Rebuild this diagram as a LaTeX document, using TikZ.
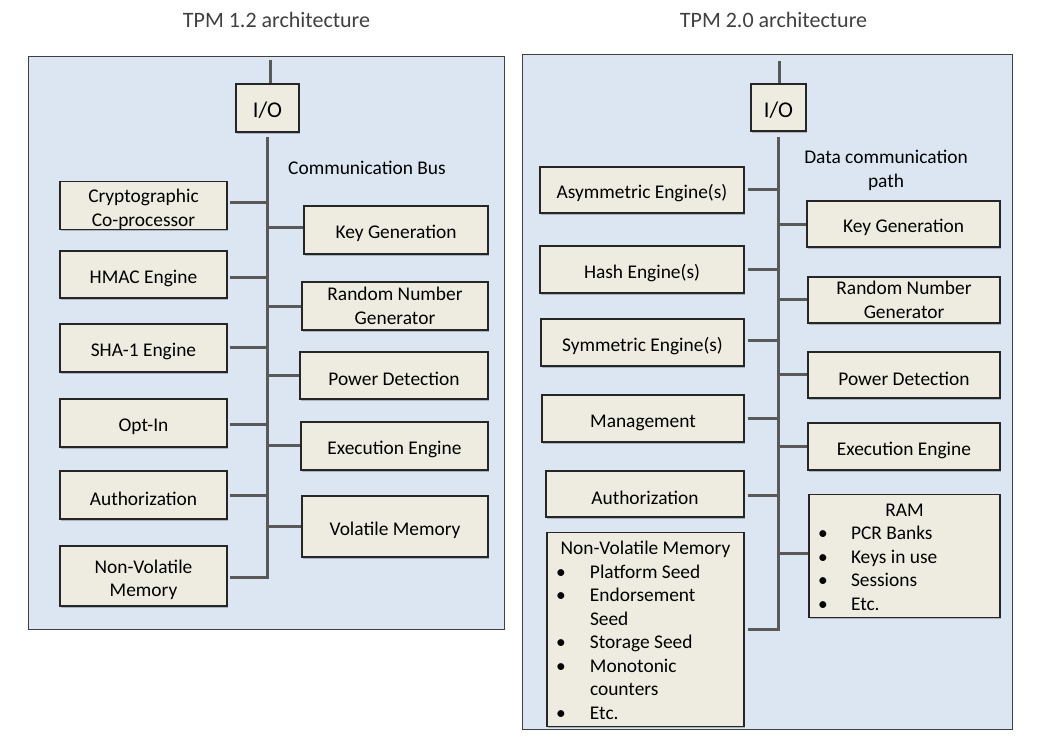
\documentclass[tikz,border=0pt]{standalone}
\usepackage{fontspec}
\setmainfont{Carlito}
\usetikzlibrary{shadows}
\definecolor{panelfill}{HTML}{DCE6F2}
\definecolor{panelborder}{HTML}{404040}
\definecolor{boxfill}{HTML}{EEECE1}
\definecolor{boxborder}{HTML}{262626}
\definecolor{busgray}{HTML}{595959}
\definecolor{titlegray}{HTML}{404040}
\newcommand{\boxfont}{\fontsize{19.4}{23.5}\selectfont}
\newcommand{\iofont}{\fontsize{22.5}{26}\selectfont}
\newcommand{\ttlfont}{\fontsize{22}{26}\selectfont}
\newcommand{\blt}{\hspace*{9pt}\textbullet}
\newcommand{\toprow}{\rule{0pt}{21pt}}
\tikzset{
  panel/.style={draw=panelborder, fill=panelfill, line width=1pt, inner sep=0pt},
  comp/.style={draw=boxborder, fill=boxfill, line width=1.1pt, inner sep=0pt, align=center, font=\boxfont,
    drop shadow={shadow xshift=1.3pt, shadow yshift=-1.5pt, opacity=0.22, fill=black}},
  iobox/.style={comp, font=\iofont},
  bus/.style={draw=busgray, line width=3pt},
  lbl/.style={font=\boxfont, inner sep=0pt, align=center},
  ttl/.style={font=\ttlfont, text=titlegray, inner sep=0pt}
}
\begin{document}
\begin{tikzpicture}[x=1pt, y=-1pt]
\useasboundingbox (0,0) rectangle (1041,748);
% titles
\node[ttl] (t1) at (276.5,20) {TPM 1.2 architecture};
\node[ttl] (t2) at (773.5,20) {TPM 2.0 architecture};
% panels
\node[panel, minimum width=476pt, minimum height=573pt] (panelL) at (266,342.5) {};
\node[panel, minimum width=490pt, minimum height=675pt] (panelR) at (767,391.5) {};

% ---------------- TPM 1.2 ----------------
\node[iobox, minimum width=63pt, minimum height=48pt] (ioL) at (267.5,108) {\rule{0pt}{20pt}I/O};
\coordinate (ioTopL) at (270,60);
\coordinate (busTopL) at (267,137);
\coordinate (busBotL) at (267,577);
\node[lbl, anchor=west] (cbus) at (288,168) {Communication Bus};

\node[comp, minimum width=167pt, minimum height=47pt] (crypto) at (143.5,205.5) {\toprow Cryptographic\\Co-processor};
\node[comp, minimum width=167pt, minimum height=47pt] (hmac) at (143.5,274.5) {\toprow HMAC Engine};
\node[comp, minimum width=167pt, minimum height=48pt] (sha) at (143.5,348) {\toprow SHA-1 Engine};
\node[comp, minimum width=167pt, minimum height=48pt] (optin) at (143.5,423) {\toprow Opt-In};
\node[comp, minimum width=167pt, minimum height=48pt] (authL) at (143.5,495) {\toprow Authorization};
\node[comp, minimum width=167pt, minimum height=60pt] (nvmL) at (143.5,576) {\toprow Non-Volatile\\Memory};

\node[comp, minimum width=184pt, minimum height=48pt] (keyL) at (396,230) {\toprow Key Generation};
\node[comp, minimum width=186pt, minimum height=48pt] (rngL) at (395,306) {Random Number\\Generator};
\node[comp, minimum width=188pt, minimum height=47pt] (powL) at (394,375.5) {\toprow Power Detection};
\node[comp, minimum width=187pt, minimum height=48pt] (execL) at (394.5,446) {\toprow Execution Engine};
\node[comp, minimum width=186pt, minimum height=61pt] (volL) at (395,526.5) {\toprow Volatile Memory};

\draw[bus] (ioTopL) -- (ioTopL |- ioL.north);
\draw[bus, line join=miter] (busTopL) -- (busBotL) -- ([xshift=2pt]nvmL.east |- busBotL);
\draw[bus] ([xshift=2pt,yshift=3.5pt]crypto.east) -- ([yshift=3.5pt]crypto.east -| busTopL);
\draw[bus] ([xshift=2pt,yshift=-2.5pt]hmac.east) -- ([yshift=-2.5pt]hmac.east -| busTopL);
\draw[bus] ([xshift=2pt,yshift=1pt]sha.east) -- ([yshift=1pt]sha.east -| busTopL);
\draw[bus] ([xshift=2pt,yshift=-1pt]optin.east) -- ([yshift=-1pt]optin.east -| busTopL);
\draw[bus] ([xshift=2pt]authL.east) -- (authL.east -| busTopL);
\draw[bus] ([yshift=3pt]keyL.west -| busTopL) -- ([yshift=3pt]keyL.west);
\draw[bus] (rngL.west -| busTopL) -- (rngL.west);
\draw[bus] (powL.west -| busTopL) -- (powL.west);
\draw[bus] ([yshift=1pt]execL.west -| busTopL) -- ([yshift=1pt]execL.west);
\draw[bus] (volL.west -| busTopL) -- (volL.west);

% ---------------- TPM 2.0 ----------------
\node[iobox, minimum width=55pt, minimum height=47pt] (ioR) at (778.5,107.5) {\rule{0pt}{20pt}I/O};
\coordinate (ioTopR) at (779,61);
\coordinate (busTopR) at (778,137);
\coordinate (busBotR) at (778,629);
\node[lbl] (dcp) at (886,170.5) {Data communication\\path};

\node[comp, minimum width=204pt, minimum height=46pt] (asym) at (642,190) {\toprow Asymmetric Engine(s)};
\node[comp, minimum width=204pt, minimum height=47pt] (hash) at (642,269.5) {\toprow Hash Engine(s)};
\node[comp, minimum width=203pt, minimum height=47pt] (sym) at (642.5,342.5) {\toprow Symmetric Engine(s)};
\node[comp, minimum width=202pt, minimum height=47pt] (mgmt) at (643,418.5) {\toprow Management};
\node[comp, minimum width=198pt, minimum height=46pt] (authR) at (645,494) {\toprow Authorization};
\node[comp, minimum width=197pt, minimum height=193pt] (nvmR) at (645.5,629.5) {%
  \begin{tabular}{@{}p{43pt}@{}p{154pt}@{}}
  \multicolumn{2}{@{}c@{}}{\rule{0pt}{22pt}Non-Volatile Memory}\\
  \blt & Platform Seed\\
  \blt & Endorsement\\
       & Seed\\
  \blt & Storage Seed\\
  \blt & Monotonic\\
       & counters\\
  \blt & Etc.
  \end{tabular}};

\node[comp, minimum width=193pt, minimum height=46pt] (keyR) at (903.5,224) {\toprow Key Generation};
\node[comp, minimum width=192pt, minimum height=46pt] (rngR) at (904,300) {Random Number\\Generator};
\node[comp, minimum width=192pt, minimum height=46pt] (powR) at (904,375) {\toprow Power Detection};
\node[comp, minimum width=192pt, minimum height=47pt] (execR) at (904,446.5) {\toprow Execution Engine};
\node[comp, minimum width=191pt, minimum height=120pt] (ramR) at (904.5,556) {%
  \begin{tabular}{@{}p{42pt}@{}p{149pt}@{}}
  \multicolumn{2}{@{}c@{}}{\rule{0pt}{22pt}RAM}\\
  \blt & PCR Banks\\
  \blt & Keys in use\\
  \blt & Sessions\\
  \blt & Etc.
  \end{tabular}};

\draw[bus] (ioTopR) -- (ioTopR |- ioR.north);
\draw[bus, line join=miter] (busTopR) -- (busBotR) -- ([xshift=3pt]nvmR.east |- busBotR);
\draw[bus] ([xshift=3pt,yshift=1pt]asym.east) -- ([yshift=1pt]asym.east -| busTopR);
\draw[bus] ([xshift=3pt]hash.east) -- (hash.east -| busTopR);
\draw[bus] ([xshift=3pt,yshift=2pt]sym.east) -- ([yshift=2pt]sym.east -| busTopR);
\draw[bus] ([xshift=3pt]mgmt.east) -- (mgmt.east -| busTopR);
\draw[bus] ([xshift=3pt,yshift=-1pt]authR.east) -- ([yshift=-1pt]authR.east -| busTopR);
\draw[bus] (keyR.west -| busTopR) -- (keyR.west);
\draw[bus] ([yshift=1pt]rngR.west -| busTopR) -- ([yshift=1pt]rngR.west);
\draw[bus] ([yshift=1pt]powR.west -| busTopR) -- ([yshift=1pt]powR.west);
\draw[bus] (execR.west -| busTopR) -- (execR.west);
\draw[bus] ([yshift=3pt]ramR.west -| busTopR) -- ([yshift=3pt]ramR.west);
\end{tikzpicture}
\end{document}
